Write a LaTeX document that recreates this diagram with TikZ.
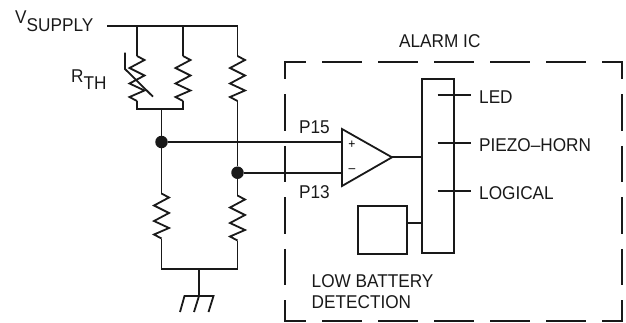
\documentclass[tikz,border=0pt]{standalone}
\usepackage{fontspec}
\setmainfont[FakeStretch=0.93]{Liberation Sans}
\usetikzlibrary{positioning}
\tikzset{
	wire/.style={line width=1.8pt,black!90,line join=miter},
	lab/.style={anchor=base west,inner sep=0pt,font=\fontsize{18.5}{20}\selectfont,black!90},
	jdot/.style={circle,fill=black!90,inner sep=0pt,minimum size=12.5pt},
	hdash/.style={wire,dash pattern=on 40pt off 16pt},
	vdash/.style={wire,dash pattern=on 36.5pt off 15pt},
	zigres/.pic={
		\draw[wire] (0,0) coordinate (-top) -- (7.5,4) -- (-7.5,12) -- (7.5,19.5) -- (-7.5,27.5) -- (7.5,34.5) -- (-7.5,41) -- (0,45) coordinate (-bot);
	}
}
\begin{document}
\begin{tikzpicture}[x=1pt,y=-1pt]
	\useasboundingbox (0,0) rectangle (626,322);
	% supply rail and upper resistors
	\coordinate (vs) at (107,26);
	\coordinate (vs1) at (137,26);
	\coordinate (vs2) at (183,26);
	\coordinate (vs3) at (237.5,26);
	\draw[wire] (vs) -- (vs3);
	\pic (rth) at (137,56) {zigres};
	\pic (rp) at (183,56) {zigres};
	\pic (rtop) at (237.5,56) {zigres};
	\draw[wire] (vs1) -- (rth-top);
	\draw[wire] (vs2) -- (rp-top);
	\draw[wire] (vs3) -- (rtop-top);
	\draw[wire] (rth-bot) |- (161.5,109) coordinate (jn) -| (rp-bot);
	% thermistor slash
	\draw[wire] (125,52.5) -- (125,69) -- (153,96.7);
	% junctions
	\node[jdot] (dplus) at (161.5,142) {};
	\node[jdot] (dminus) at (237.5,172.7) {};
	\draw[wire] (jn) -- (dplus);
	\draw[wire] (rtop-bot) -- (dminus);
	% lower resistors and ground
	\pic (rl) at (161.5,193.5) {zigres};
	\pic (rr) at (237.5,195.5) {zigres};
	\draw[wire] (dplus) -- (rl-top);
	\draw[wire] (dminus) -- (rr-top);
	\coordinate (gt) at (199,269);
	\draw[wire] (rl-bot) |- (gt) -| (rr-bot);
	\coordinate (gb) at (199,296);
	\draw[wire] (gt) -- (gb);
	\draw[wire] (180,312) -- (184.5,296) -- (213.5,296) -- (208.5,312);
	\draw[wire] (gb) -- (194,312);
	% alarm ic outline
	\draw[hdash,dash phase=19pt] (285.3,62) -- (622,62);
	\draw[hdash,dash phase=19pt] (285.3,320.8) -- (622,320.8);
	\draw[vdash,dash phase=18.5pt] (285.3,61.3) -- (285.3,321.5);
	\draw[vdash,dash phase=18.5pt] (622,61.3) -- (622,321.5);
	% comparator
	\coordinate (cpa) at (342,142);
	\coordinate (cma) at (342,172.7);
	\coordinate (cout) at (392,157.3);
	\draw[wire] (342,129) -- (cout) -- (342,186) -- cycle;
	\draw[wire] (dplus) -- (cpa);
	\draw[wire] (dminus) -- (cma);
	\node[font=\fontsize{13}{14}\selectfont,inner sep=0pt] (plus) at (352,144.5) {+};
	\node[font=\fontsize{13}{14}\selectfont,inner sep=0pt] (minus) at (352,171) {--};
	% logic bar
	\node[draw,wire,minimum width=32pt,minimum height=174pt,inner sep=0pt] (bar) at (438,166) {};
	\node[draw,wire,minimum width=48.7pt,minimum height=48pt,inner sep=0pt] (batt) at (382.3,230) {};
	\draw[wire] (cout) -- (cout -| bar.west);
	\draw[wire] (batt.east |- 0,222.7) -- (bar.west |- 0,222.7);
	% outputs
	\draw[wire] (437.7,95) -- (471,95) coordinate (oled);
	\draw[wire] (437.7,143) -- (471,143) coordinate (opiezo);
	\draw[wire] (437.7,190.7) -- (471,190.7) coordinate (ologic);
	% labels
	\node[lab] (vsupply) at (15,23) {V\raisebox{-8pt}{SUPPLY}};
	\node[lab] (rthlab) at (71,82) {R\raisebox{-7pt}{TH}};
	\node[lab] (alarm) at (399,47) {ALARM IC};
	\node[lab] (p15) at (299,133) {P15};
	\node[lab] (p13) at (299,198) {P13};
	\node[lab] (led) at (479,103) {LED};
	\node[lab] (piezo) at (479,151.5) {PIEZO--HORN};
	\node[lab] (logical) at (479,199.5) {LOGICAL};
	\node[lab] (lowbat) at (311.5,287) {LOW BATTERY};
	\node[lab] (detect) at (311.5,308) {DETECTION};
\end{tikzpicture}
\end{document}
